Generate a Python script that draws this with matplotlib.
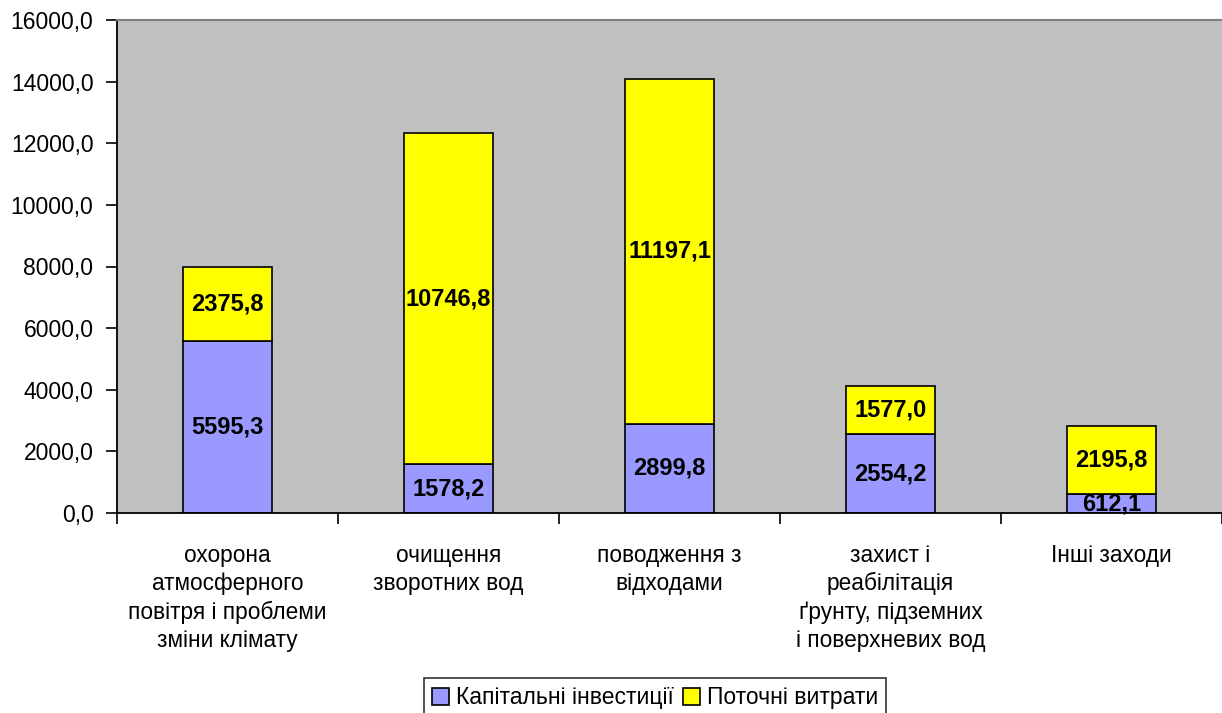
import matplotlib
matplotlib.use("Agg")
import matplotlib.pyplot as plt
import numpy as np
from matplotlib.ticker import FuncFormatter, FixedLocator, NullFormatter

plt.rcParams['font.family'] = ['Liberation Sans', 'DejaVu Sans']

categories = [
    "охорона\nатмосферного\nповітря і проблеми\nзміни клімату",
    "очищення\nзворотних вод",
    "поводження з\nвідходами",
    "захист і\nреабілітація\nґрунту, підземних\nі поверхневих вод",
    "Інші заходи",
]
capital = [5595.3, 1578.2, 2899.8, 2554.2, 612.1]
current = [2375.8, 10746.8, 11197.1, 1577.0, 2195.8]
series_names = ["Капітальні інвестиції", "Поточні витрати"]

def fmt(v):
    return f"{v:.1f}".replace(".", ",")

fig = plt.figure(figsize=(12.22, 7.13), dpi=100)
ax = fig.add_axes([117 / 1222, 200 / 713, 1 - 117 / 1222, 493 / 713])
ax.set_facecolor("#C0C0C0")

x = np.arange(len(categories))
w = 0.4
b1 = ax.bar(x, capital, width=w, color="#9999FF", edgecolor="black", linewidth=1.2,
            label=series_names[0], zorder=2)
b2 = ax.bar(x, current, width=w, bottom=capital, color="#FFFF00", edgecolor="black",
            linewidth=1.2, label=series_names[1], zorder=2)

for i in range(len(categories)):
    ax.text(x[i], capital[i] / 2, fmt(capital[i]), ha="center", va="center",
            fontsize=17, fontweight="bold", zorder=3)
    ax.text(x[i], capital[i] + current[i] / 2, fmt(current[i]), ha="center", va="center",
            fontsize=17, fontweight="bold", zorder=3)

ax.set_xlim(-0.5, len(categories) - 0.5)
ax.set_ylim(0, 16000)
ax.set_yticks(np.arange(0, 16001, 2000))
ax.yaxis.set_major_formatter(FuncFormatter(lambda v, p: fmt(v)))
ax.tick_params(axis="y", direction="out", length=8, width=1.2, labelsize=16.5, pad=9)

# category boundaries as major ticks, labels on minor ticks at bar centres
ax.xaxis.set_major_locator(FixedLocator(np.arange(-0.5, len(categories), 1.0)))
ax.xaxis.set_major_formatter(NullFormatter())
ax.xaxis.set_minor_locator(FixedLocator(x))
ax.set_xticklabels(categories, minor=True, fontsize=16.3, linespacing=1.3)
ax.tick_params(axis="x", which="major", direction="out", length=8, width=1.2)
ax.tick_params(axis="x", which="minor", length=0, pad=22)

for side in ("left", "bottom"):
    ax.spines[side].set_color("black")
    ax.spines[side].set_linewidth(1.3)
ax.spines["top"].set_color("#808080")
ax.spines["top"].set_linewidth(1.5)
ax.spines["right"].set_visible(False)

leg = fig.legend(handles=[b1, b2], loc="lower center", bbox_to_anchor=(655 / 1222, -0.006),
                 ncol=2, fontsize=16.5, frameon=True, fancybox=False, edgecolor="black",
                 handlelength=0.75, handleheight=0.75, handletextpad=0.3, columnspacing=0.4,
                 borderpad=0.35, borderaxespad=0)
leg.get_frame().set_linewidth(1.2)

fig.savefig("out.png", dpi=100)
